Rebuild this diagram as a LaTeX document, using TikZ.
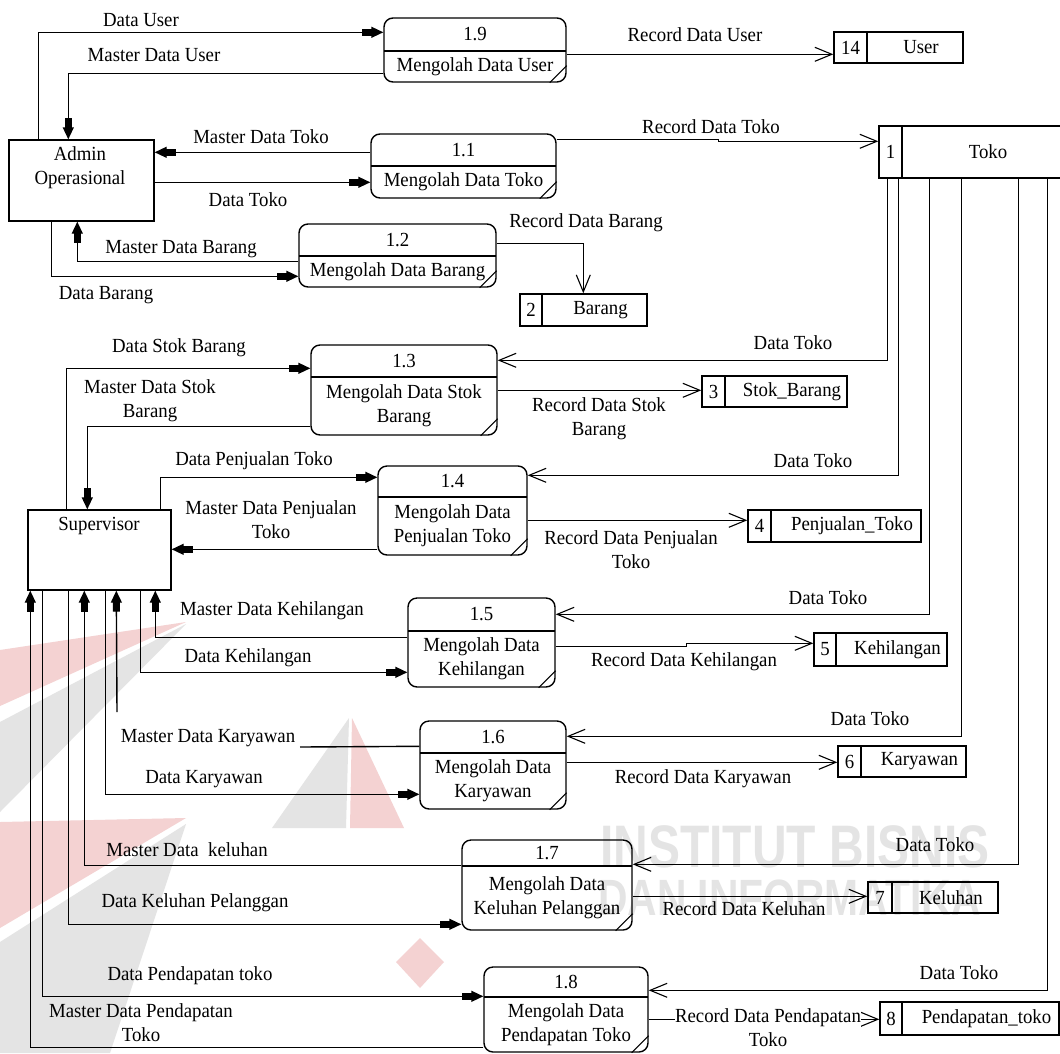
\documentclass[tikz,border=0pt]{standalone}
\usepackage{fontspec}
\setmainfont{Liberation Serif}[FakeStretch=0.94]
\newfontfamily\markfont{Liberation Sans}[FakeStretch=0.8]
\usetikzlibrary{arrows.meta,fit,calc}

\definecolor{markpink}{HTML}{F4D2D2}
\definecolor{markgrey}{HTML}{E4E4E4}

% process bubble: name, x1, y1, x2, y2, divider y, number, title
\newcommand\procbubble[8]{%
  \node[procbox, fit={(#2,#3)(#4,#5)}] (#1) {};
  \draw[line] (#2,#6) -- (#4,#6);
  \draw[slash] ([xshift=-17pt]#1.south east) -- ([yshift=17pt]#1.south east);
  \node[lbl] (#1n) at ($(#2,#3)!0.5!(#4,#6)$) {#7};
  \node[lbl] (#1t) at ($(#2,#6)!0.5!(#4,#5)$) {#8};
}
% data store: name, x1, y1, x2, y2, divider x, number, title
\newcommand\datastore[8]{%
  \node[storebox, fit={(#2,#3)(#4,#5)}] (#1) {};
  \draw[line] (#6,#3) -- (#6,#5);
  \node[lbl] (#1n) at ($(#2,#3)!0.5!(#6,#5)$) {#7};
  \node[lbl, xshift=6pt] (#1t) at ($(#6,#3)!0.5!(#4,#5)$) {#8};
}

\begin{document}
\begin{tikzpicture}[x=1pt,y=-1pt,
  every node/.style={font=\fontsize{20}{24}\selectfont},
  lbl/.style={inner sep=0pt, align=center},
  line/.style={line width=1.4pt},
  slash/.style={line width=1pt},
  procbox/.style={draw, line width=1.4pt, rounded corners=9pt, inner sep=0pt},
  storebox/.style={draw, line width=1.4pt, inner sep=0pt},
  entity/.style={draw, line width=1.4pt, inner sep=0pt},
  fa/.style={line, -{Rectangle[length=10pt,width=7pt,sep=-1pt]Triangle[length=12pt,width=11pt]}},
  oa/.style={line, -{Straight Barb[length=17pt,width=14pt,line width=1.1pt]}},
  marktext/.style={inner sep=0pt, text=markgrey, font=\markfont\bfseries\fontsize{60}{60}\selectfont}
]
\fill[white] (0,0) rectangle (1060,1053);
\useasboundingbox (0,0) rectangle (1060,1053);

% faint institute mark in the background
\fill[markpink] (0,650) -- (186,622) -- (0,706) -- cycle;
\fill[markgrey] (0,722) -- (186,624) -- (0,812) -- cycle;
\fill[markpink] (0,822) -- (186,818) -- (0,928) -- cycle;
\fill[markgrey] (0,942) -- (186,824) -- (110,1053) -- (0,1053) -- cycle;
\fill[markgrey] (349,718) -- (272,828) -- (346,828) -- cycle;
\fill[markpink] (352,718) -- (350,828) -- (404,828) -- cycle;
\fill[markpink] (420,938) -- (444,962) -- (420,988) -- (396,962) -- cycle;
\node[marktext, anchor=base west] (markA) at (600,867) {INSTITUT BISNIS};
\node[marktext, anchor=base west, font=\markfont\bfseries\fontsize{51}{51}\selectfont] (markB) at (598,915) {DAN INFORMATIKA};

% external entities
\node[entity, fit={(9,140)(154,221)}] (admin) {};
\node[lbl] (adminT) at (80,168) {Admin\\Operasional};
\node[entity, fit={(28,510)(171,590)}] (sup) {};
\node[lbl] (supT) at (99,526) {Supervisor};

% processes
\procbubble{p19}{384}{18}{566}{82}{51}{1.9}{Mengolah Data User}
\procbubble{p11}{371}{134}{556}{198}{166}{1.1}{Mengolah Data Toko}
\procbubble{p12}{299}{224}{496}{287}{256}{1.2}{Mengolah Data Barang}
\procbubble{p13}{311}{345}{497}{435}{377}{1.3}{Mengolah Data Stok\\Barang}
\procbubble{p14}{378}{466}{527}{555}{497}{1.4}{Mengolah Data\\Penjualan Toko}
\procbubble{p15}{408}{598}{555}{687}{631}{1.5}{Mengolah Data\\Kehilangan}
\procbubble{p16}{420}{721}{566}{809}{753}{1.6}{Mengolah Data\\Karyawan}
\procbubble{p17}{462}{840}{632}{930}{866}{1.7}{Mengolah Data\\Keluhan Pelanggan}
\procbubble{p18}{484}{967}{648}{1052}{997}{1.8}{Mengolah Data\\Pendapatan Toko}

% data stores
\datastore{s14}{834}{32}{963}{63}{867}{14}{User}
\datastore{s1}{879}{126}{1062}{178}{902}{1}{Toko}
\datastore{s2}{520}{294}{647}{326}{542}{2}{Barang}
\datastore{s3}{702}{376}{847}{407}{725}{3}{Stok\_Barang}
\datastore{s4}{748}{510}{921}{542}{771}{4}{Penjualan\_Toko}
\datastore{s5}{814}{633}{947}{666}{836}{5}{Kehilangan}
\datastore{s6}{838}{746}{966}{777}{861}{6}{Karyawan}
\datastore{s7}{868}{882}{998}{913}{892}{7}{Keluhan}
\datastore{s8}{880}{1002}{1059}{1035}{902}{8}{Pendapatan\_toko}

% flows of Admin Operasional
\draw[fa] ([xshift=30pt]admin.north west) |- ([yshift=-15pt]p19.north west);
\draw[fa] ([yshift=-56pt]p19.north west) -| ([xshift=60pt]admin.north west);
\draw[fa] ([yshift=-19pt]p11.north west) -- ([yshift=-13pt]admin.north east);
\draw[fa] ([yshift=-43pt]admin.north east) -- ([yshift=-49pt]p11.north west);
\draw[fa] ([yshift=-38pt]p12.north west) -| ([xshift=69pt]admin.south west);
\draw[fa] ([xshift=43pt]admin.south west) |- ([yshift=-53pt]p12.north west);
\draw[oa] ([yshift=-37pt]p19.north east) -- ([yshift=-23pt]s14.north west);
\draw[oa] ([yshift=-6pt]p11.north east) -- ++(162,0) -- ++(0,2) -- ([yshift=-16pt]s1.north west);
\draw[oa] ([yshift=-20pt]p12.north east) -| ([xshift=64pt]s2.north west);

% flows of Supervisor
\draw[fa] ([xshift=39pt]sup.north west) |- ([yshift=-24pt]p13.north west);
\draw[fa] ([yshift=-82pt]p13.north west) -| ([xshift=60pt]sup.north west);
\draw[fa] ([xshift=133pt]sup.north west) |- ([yshift=-12pt]p14.north west);
\draw[fa] ([yshift=-84pt]p14.north west) -- ([yshift=-40pt]sup.north east);
\draw[fa] ([yshift=-40pt]p15.north west) -| ([xshift=128pt]sup.south west);
\draw[fa] ([xshift=113pt]sup.south west) |- ([yshift=-75pt]p15.north west);
\coordinate (mkA) at (300,747);
\coordinate (mkB) at (117,712);
\draw[line] ([yshift=-26pt]p16.north west) -- (mkA);
\draw[fa] (mkB) -- ([xshift=89pt]sup.south west);
\draw[fa] ([xshift=78pt]sup.south west) |- ([yshift=-74pt]p16.north west);
\draw[fa] ([yshift=-26pt]p17.north west) -| ([xshift=57pt]sup.south west);
\draw[fa] ([xshift=41pt]sup.south west) |- ([yshift=-85pt]p17.north west);
\draw[fa] ([xshift=15pt]sup.south west) |- ([yshift=-30pt]p18.north west);
\draw[fa] ([yshift=-81pt]p18.north west) -| ([xshift=3pt]sup.south west);

% Data Toko from the Toko store
\draw[oa] ([xshift=9pt]s1.south west) |- ([yshift=-16pt]p13.north east);
\draw[oa] ([xshift=20pt]s1.south west) |- ([yshift=-10pt]p14.north east);
\draw[oa] ([xshift=51pt]s1.south west) |- ([yshift=-17pt]p15.north east);
\draw[oa] ([xshift=83pt]s1.south west) |- ([yshift=-16pt]p16.north east);
\draw[oa] ([xshift=140pt]s1.south west) |- ([yshift=-25pt]p17.north east);
\draw[oa] ([xshift=169pt]s1.south west) |- ([yshift=-24pt]p18.north east);

% records written to the stores
\draw[oa] ([yshift=-46pt]p13.north east) -- ([yshift=-15pt]s3.north west);
\draw[oa] ([yshift=-55pt]p14.north east) -- ([yshift=-11pt]s4.north west);
\draw[oa] ([yshift=-49pt]p15.north east) -- ++(131,0) -- ++(0,-3) -- ([yshift=-11pt]s5.north west);
\draw[oa] ([yshift=-42pt]p16.north east) -- ([yshift=-17pt]s6.north west);
\draw[oa] ([yshift=-57pt]p17.north east) -- ([yshift=-15pt]s7.north west);
\draw[oa] ([yshift=-53pt]p18.north east) -- ([yshift=-18pt]s8.north west);

% flow labels
\node[lbl] (lDU) at (141,20) {Data User};
\node[lbl] (lMDU) at (154,55) {Master Data User};
\node[lbl] (lMDT) at (261,137) {Master Data Toko};
\node[lbl] (lDT) at (248,200) {Data Toko};
\node[lbl] (lMDB) at (181,249) {Master Data Barang};
\node[lbl] (lDB) at (106,295) {Data Barang};
\node[lbl] (lRDU) at (695,35) {Record Data User};
\node[lbl] (lRDT) at (711,127) {Record Data Toko};
\node[lbl] (lRDB) at (586,223) {Record Data Barang};
\node[lbl] (lDSB) at (179,348) {Data Stok Barang};
\node[lbl] (lMDSB) at (150,401) {Master Data Stok\\Barang};
\node[lbl] (lDPT) at (254,461) {Data Penjualan Toko};
\node[lbl] (lMDPT) at (271,520) {Master Data Penjualan\\Toko};
\node[lbl] (lT3) at (793,343) {Data Toko};
\node[lbl] (lRDSB) at (599,419) {Record Data Stok\\Barang};
\node[lbl] (lT4) at (813,461) {Data Toko};
\node[lbl] (lRDPT) at (631,550) {Record Data Penjualan\\Toko};
\node[lbl] (lMDK) at (272,611) {Master Data Kehilangan};
\node[lbl] (lDK) at (248,658) {Data Kehilangan};
\node[lbl] (lT5) at (828,598) {Data Toko};
\node[lbl] (lRDK) at (684,662) {Record Data Kehilangan};
\node[lbl] (lMDKy) at (208,738) {Master Data Karyawan};
\node[lbl] (lDKy) at (204,779) {Data Karyawan};
\node[lbl] (lT6) at (870,719) {Data Toko};
\node[lbl] (lRDKy) at (703,779) {Record Data Karyawan};
\node[lbl] (lMDKl) at (187,850) {Master Data\ \ keluhan};
\node[lbl] (lDKP) at (195,903) {Data Keluhan Pelanggan};
\node[lbl] (lT7) at (935,845) {Data Toko};
\node[lbl] (lRDKl) at (744,909) {Record Data Keluhan};
\node[lbl] (lDPdt) at (190,976) {Data Pendapatan toko};
\node[lbl] (lMDPdt) at (141,1023) {Master Data Pendapatan\\Toko};
\node[lbl] (lT8) at (959,973) {Data Toko};
\node[lbl, fill=white] (lRDPdt) at (768,1028) {Record Data Pendapatan\\Toko};
\end{tikzpicture}
\end{document}
